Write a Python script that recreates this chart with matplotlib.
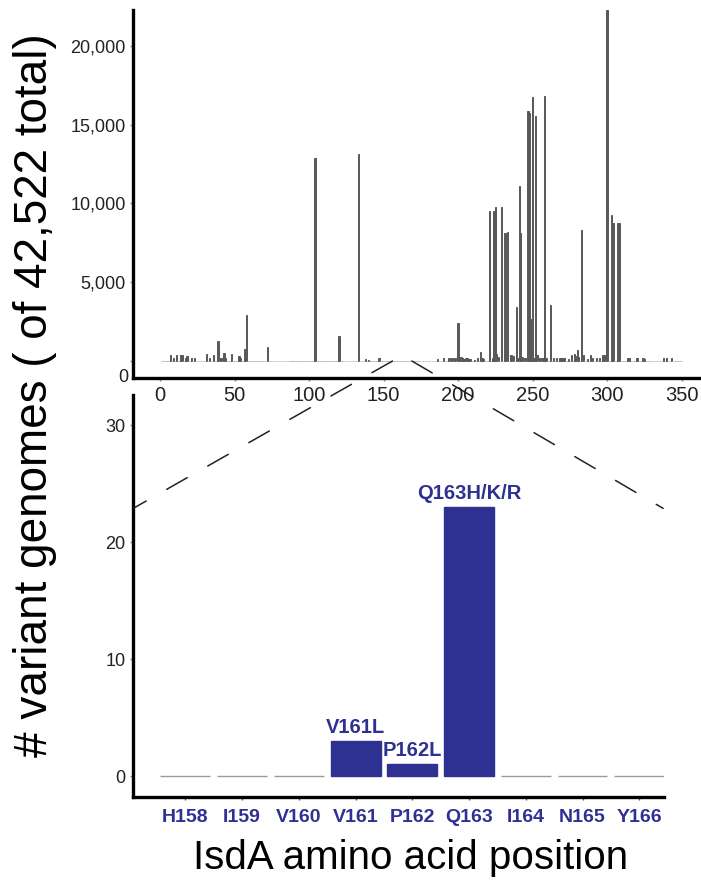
import matplotlib
matplotlib.use('Agg')
import matplotlib.pyplot as plt
from matplotlib.patches import ConnectionPatch
import numpy as np

plt.rcParams['font.family'] = ['Liberation Sans', 'DejaVu Sans']
plt.rcParams['lines.scale_dashes'] = False

# full protein: residues that carry variants and # genomes (others are 0)
n_residues = 350
var_pos = [7, 9, 11, 14, 15, 17, 18, 21, 23, 31, 33, 36, 39, 41, 43, 44, 48,
           53, 54, 57, 58, 72,
           104, 120, 133, 138, 140, 147, 186, 190, 194, 196, 198,
           200, 201, 202, 203, 204, 205, 206, 207, 208, 211, 213, 215, 216, 217,
           221, 223, 224, 225, 226, 227, 229, 231, 232, 233, 235, 236, 237, 239,
           240, 241, 242, 243, 245, 247, 248, 249, 250, 251, 252, 253, 255, 257,
           258, 259, 262, 264, 266, 268, 269, 270, 271, 274, 276, 278, 279, 280,
           281, 283, 284, 287, 289, 290, 293, 295, 297, 298,
           300, 303, 304, 307, 308, 314, 315, 320, 324, 325, 338, 340, 343]
var_count = [400, 190, 400, 400, 400, 190, 315, 190, 190, 440, 190, 400, 1280, 190, 525, 190, 440,
             336, 190, 756, 2920, 880,
             12900, 1580, 13150, 150, 85, 210, 147, 190, 190, 190, 190,
             2400, 190, 250, 190, 150, 190, 190, 150, 150, 84, 190, 570, 190, 150,
             9500, 190, 9500, 9750, 420, 250, 9750, 8100, 8100, 8170, 380, 400, 330, 3420,
             190, 11140, 8100, 270, 190, 15890, 15760, 2650, 16780, 190, 15570, 360, 190, 190,
             16840, 190, 3550, 190, 190, 190, 190, 190, 190, 130, 400, 440, 300, 690,
             250, 8290, 400, 130, 400, 190, 190, 190, 360, 360,
             22250, 9280, 8760, 8760, 8760, 190, 190, 190, 190, 130, 190, 190, 190]
top_yticks = [0, 5000, 10000, 15000, 20000]

# zoomed window H158-Y166
window_labels = ['H158', 'I159', 'V160', 'V161', 'P162', 'Q163', 'I164', 'N165', 'Y166']
window_counts = [0, 0, 0, 3, 1, 23, 0, 0, 0]
window_variants = ['', '', '', 'V161L', 'P162L', 'Q163H/K/R', '', '', '']

grey_bar = '#595959'
navy = '#2E3192'

residues = np.arange(1, n_residues + 1)
counts = np.zeros(n_residues)
counts[np.array(var_pos) - 1] = var_count

fig = plt.figure(figsize=(7.01, 8.81), dpi=100)
ax1 = fig.add_axes([0.19, 0.571, 0.81, 0.418])
ax2 = fig.add_axes([0.19, 0.0953, 0.7575, 0.4563])
ax2.patch.set_visible(False)

# top: whole protein
edge1 = [grey_bar if c > 0 else '#b5b5b5' for c in counts]
ax1.bar(residues, counts, width=0.9, color=grey_bar, edgecolor=edge1, linewidth=0.7)
ax1.set_xlim(-18, 363)
ax1.set_ylim(-1076, 22300)
ax1.set_xticks(np.arange(0, 351, 50))
ax1.set_yticks(top_yticks)
# the "0" label sits down at the axis line, the others next to their ticks
ax1.set_yticklabels([''] + [f'{v:,}' for v in top_yticks[1:]])
ax1.annotate('0', xy=(0, 0), xycoords=ax1.get_yaxis_transform(), xytext=(-5, -17),
             textcoords='offset pixels', ha='right', va='center', fontsize=13, color='#222')
ax1.tick_params(axis='x', length=2.5, width=1, color='#888', labelsize=14.5, pad=3, labelcolor='#222')
ax1.tick_params(axis='y', length=2.5, width=1, color='#888', labelsize=13, pad=3, labelcolor='#222')

# bottom: zoomed window
xw = np.arange(len(window_labels))
edge2 = [navy if c > 0 else '#9a9a9a' for c in window_counts]
ax2.bar(xw, window_counts, width=0.88, color=navy, edgecolor=edge2, linewidth=1.0)
for x, c, lab in zip(xw, window_counts, window_variants):
    if lab:
        ax2.annotate(lab, (x, c), xytext=(0, 3), textcoords='offset points',
                     ha='center', va='bottom', fontsize=14.5, fontweight='bold', color=navy)
ax2.set_xlim(-0.92, 8.44)
ax2.set_ylim(-1.8, 32.6)
ax2.set_xticks(xw)
ax2.set_xticklabels(window_labels, fontweight='bold', color=navy)
ax2.set_yticks([0, 10, 20, 30])
ax2.tick_params(axis='x', length=2.5, width=1, color='#555', labelsize=14, pad=6)
ax2.tick_params(axis='y', length=2.5, width=1, color='#888', labelsize=13, pad=3, labelcolor='#222')

for ax in (ax1, ax2):
    for s in ('top', 'right'):
        ax.spines[s].set_visible(False)
    for s in ('left', 'bottom'):
        ax.spines[s].set_linewidth(2.4)
        ax.spines[s].set_color('black')

# dashed zoom guides
for xb, xa in [(156, 0), (169, 0.998)]:
    con = ConnectionPatch(xyA=(xb, 0), coordsA=ax1.transData,
                          xyB=(xa, 22.9), coordsB=ax2.get_yaxis_transform(),
                          linestyle=(0, (17, 17)), linewidth=1.1, color='#222')
    fig.add_artist(con)

fig.text(0.05, 0.552, '# variant genomes ( of 42,522 total)', rotation=90,
         ha='center', va='center', fontsize=33)
fig.text(0.585, 0.026, 'IsdA amino acid position', ha='center', va='center', fontsize=29)

fig.savefig('out.png', dpi=100)
